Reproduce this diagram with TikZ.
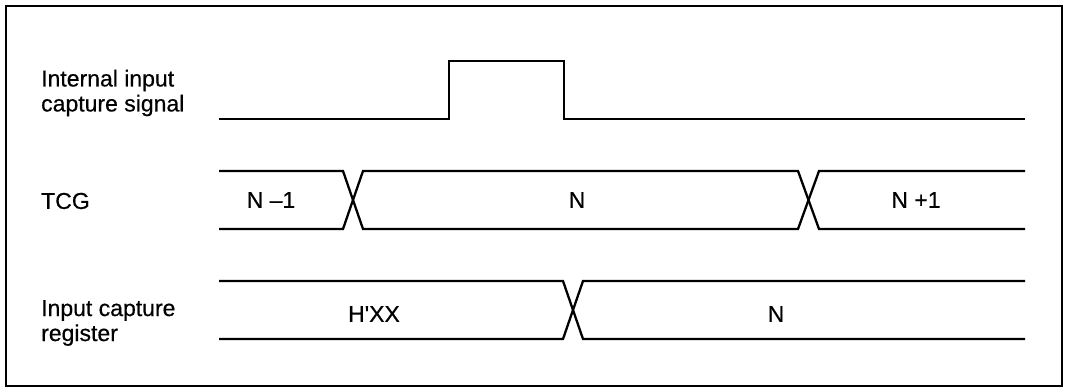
\documentclass[tikz,border=0pt]{standalone}
\usepackage{fontspec}
\setmainfont{Liberation Sans}
\newfontfamily\heavyfont{Liberation Sans}[FakeBold=0.5]
\begin{document}
\begin{tikzpicture}[x=1pt,y=-1pt,
  wave/.style={line width=2.3pt,line join=miter},
  lbl/.style={inner sep=0pt,font=\fontsize{23}{25}\selectfont\heavyfont,align=left,anchor=west},
  val/.style={inner sep=0pt,font=\fontsize{23}{25}\selectfont\heavyfont}]
\useasboundingbox (0,0) rectangle (1067,391);
\draw[line width=2.4pt] (6,6) rectangle (1062,386);
% labels
\node[lbl] (l1) at (41,93) {Internal input\\capture signal};
\node[lbl] (l2) at (41,201) {TCG};
\node[lbl] (l3) at (41,323) {Input capture\\register};
% signal 1
\draw[wave] (219,119) -- (449,119) -- (449,61) -- (564,61) -- (564,119) -- (1025,119);
% TCG
\draw[wave] (219,171) -- (343,171) -- (363,229) -- (798,229) -- (819,171) -- (1025,171);
\draw[wave] (219,229) -- (343,229) -- (363,171) -- (798,171) -- (819,229) -- (1025,229);
\node[val] (t1) at (271,200) {N –1};
\node[val] (t2) at (577,200) {N};
\node[val] (t3) at (916,200) {N +1};
% register
\draw[wave] (219,281) -- (563,281) -- (583,339) -- (1025,339);
\draw[wave] (219,339) -- (563,339) -- (583,281) -- (1025,281);
\node[val] (r1) at (374,314) {\addfontfeature{Ligatures=TeXOff}H'XX};
\node[val] (r2) at (776,314) {N};
\end{tikzpicture}
\end{document}
